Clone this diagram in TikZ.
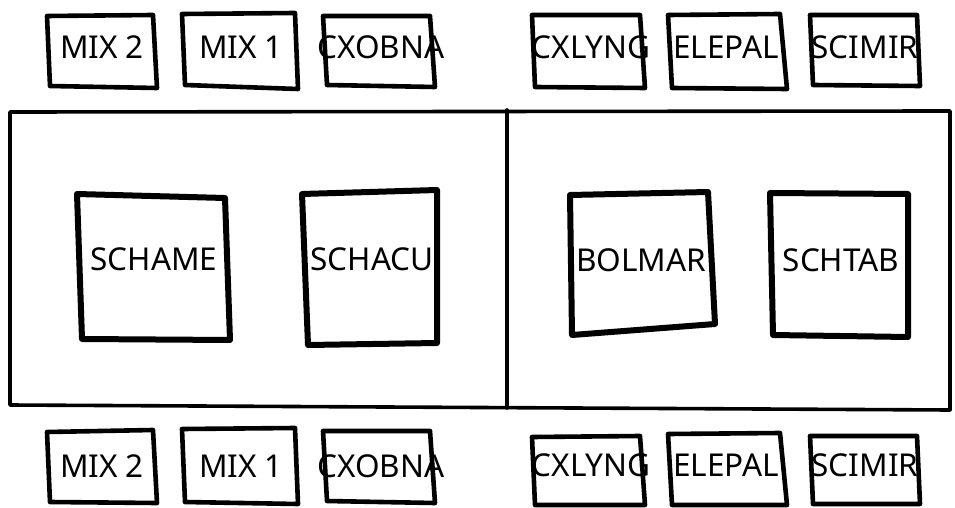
\documentclass[tikz,border=0pt]{standalone}
\usepackage{fontspec}
\setmainfont{Noto Sans}
\begin{document}
\begin{tikzpicture}[x=1pt,y=-1pt,
  smallbox/.style={line width=4.6pt,line join=round,line cap=round},
  bigbox/.style={line width=6pt,line join=round,line cap=round},
  frame/.style={line width=3.6pt,line join=round,line cap=round},
  lbl/.style={inner sep=0pt,font=\fontsize{31.5}{36}\selectfont}]
\useasboundingbox (0,0) rectangle (955,508);
% frame
\draw[frame] (10,112) -- (950,111) -- (950,410) -- (10,405) -- cycle;
\draw[frame] (507,110) -- (507,408);
% inner boxes
\draw[bigbox] (77,194) -- (225,198) -- (230,340) -- (82,339) -- cycle;
\node[lbl] (schame) at (154,259) {SCHAME};
\draw[bigbox] (302,194) -- (437,190) -- (437,343) -- (308,345) -- cycle;
\node[lbl] (schacu) at (372,259) {SCHACU};
\draw[bigbox] (570,195) -- (708,192) -- (715,324) -- (572,335) -- cycle;
\node[lbl] (bolmar) at (641,260) {BOLMAR};
\draw[bigbox] (770,193) -- (908,194) -- (908,337) -- (773,335) -- cycle;
\node[lbl] (schtab) at (841,260) {SCHTAB};
% top row
\draw[smallbox] (47,16) -- (153,15) -- (157,88) -- (50,86) -- cycle;
\node[lbl] (tmix2) at (102,47) {MIX 2};
\draw[smallbox] (182,14) -- (295,13) -- (298,89) -- (185,85) -- cycle;
\node[lbl] (tmix1) at (241,47) {MIX 1};
\draw[smallbox] (323,16) -- (430,16) -- (435,87) -- (327,85) -- cycle;
\node[lbl] (tcxobna) at (381,47) {CXOBNA};
\draw[smallbox] (532,15) -- (640,15) -- (645,88) -- (535,87) -- cycle;
\node[lbl] (tcxlyng) at (591,47) {CXLYNG};
\draw[smallbox] (668,15) -- (780,14) -- (787,89) -- (672,88) -- cycle;
\node[lbl] (telepal) at (726,47) {ELEPAL};
\draw[smallbox] (810,15) -- (917,15) -- (920,86) -- (813,85) -- cycle;
\node[lbl] (tscimir) at (865,47) {SCIMIR};
% bottom row
\draw[smallbox] (47,432) -- (153,430) -- (157,503) -- (50,502) -- cycle;
\node[lbl] (bmix2) at (102,466) {MIX 2};
\draw[smallbox] (182,429) -- (295,428) -- (298,504) -- (185,502) -- cycle;
\node[lbl] (bmix1) at (241,466) {MIX 1};
\draw[smallbox] (323,431) -- (430,431) -- (435,503) -- (327,501) -- cycle;
\node[lbl] (bcxobna) at (381,466) {CXOBNA};
\draw[smallbox] (532,437) -- (640,436) -- (645,505) -- (535,505) -- cycle;
\node[lbl] (bcxlyng) at (591,465) {CXLYNG};
\draw[smallbox] (668,434) -- (780,433) -- (787,505) -- (672,505) -- cycle;
\node[lbl] (belepal) at (726,465) {ELEPAL};
\draw[smallbox] (810,436) -- (917,436) -- (920,504) -- (813,504) -- cycle;
\node[lbl] (bscimir) at (865,465) {SCIMIR};
\end{tikzpicture}
\end{document}
